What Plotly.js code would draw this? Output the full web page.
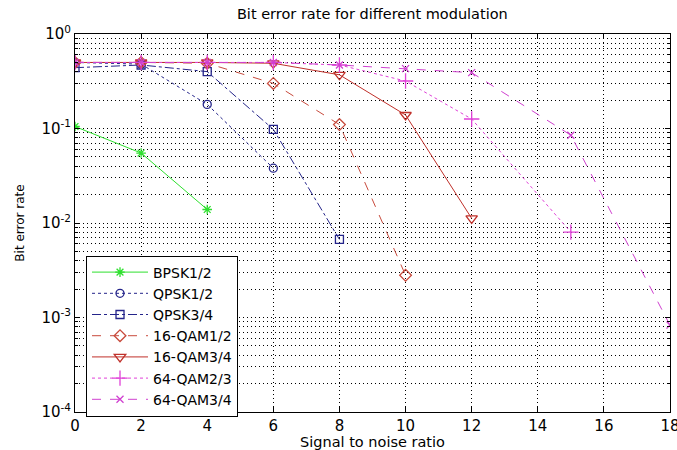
<!DOCTYPE html>
<html>
<head>
<meta charset="utf-8">
<script src="https://cdn.plot.ly/plotly-3.0.1.min.js"></script>
<style>html,body{margin:0;padding:0;background:#fff;}#chart{width:677px;height:450px;}</style>
</head>
<body>
<div id="chart"></div>
<script>
var seriesNames = ['BPSK1/2','QPSK1/2','QPSK3/4','16-QAM1/2','16-QAM3/4','64-QAM2/3','64-QAM3/4'];
var xBPSK12 = [0, 2, 4];
var yBPSK12 = [0.105, 0.055, 0.0139];
var xQPSK12 = [0, 2, 4, 6];
var yQPSK12 = [0.5, 0.48, 0.18, 0.038];
var xQPSK34 = [0, 2, 4, 6, 8];
var yQPSK34 = [0.44, 0.47, 0.40, 0.098, 0.0067];
var xQAM16_12 = [0, 2, 4, 6, 8, 10];
var yQAM16_12 = [0.5, 0.5, 0.49, 0.30, 0.11, 0.0028];
var xQAM16_34 = [0, 2, 4, 6, 8, 10, 12];
var yQAM16_34 = [0.5, 0.5, 0.5, 0.49, 0.37, 0.139, 0.0112];
var xQAM64_23 = [0, 2, 4, 6, 8, 10, 12, 15];
var yQAM64_23 = [0.5, 0.5, 0.5, 0.5, 0.47, 0.318, 0.126, 0.008];
var xQAM64_34 = [0, 2, 4, 6, 8, 10, 12, 15, 18];
var yQAM64_34 = [0.5, 0.5, 0.5, 0.5, 0.47, 0.43, 0.39, 0.085, 0.00083];

var xTickVals = [0, 2, 4, 6, 8, 10, 12, 14, 16, 18];
var yTickVals = [0.0001, 0.001, 0.01, 0.1, 1];
var yTickText = ['10<sup>-4</sup>', '10<sup>-3</sup>', '10<sup>-2</sup>', '10<sup>-1</sup>', '10<sup>0</sup>'];
var minorMantissas = [2, 3, 4, 5, 6, 7, 8, 9];

var minorVals = [];
yTickVals.slice(0, -1).forEach(function (d) {
  minorMantissas.forEach(function (m) { minorVals.push(d * m); });
});

var colors = ['#2ee02e', '#24248a', '#24248a', '#c84a3c', '#c0302a', '#e040d8', '#d040d0'];
var symbols = ['asterisk-open', 'circle-open', 'square-open', 'diamond-open', 'triangle-down-open', 'cross-thin-open', 'x-thin-open'];
var sizes = [8, 8, 8, 9, 10, 11, 7];
var dashes = ['solid', 'dot', 'dashdot', 'dash', 'solid', 'dot', 'dash'];
var xs = [xBPSK12, xQPSK12, xQPSK34, xQAM16_12, xQAM16_34, xQAM64_23, xQAM64_34];
var ys = [yBPSK12, yQPSK12, yQPSK34, yQAM16_12, yQAM16_34, yQAM64_23, yQAM64_34];

var traces = seriesNames.map(function (n, i) {
  return {
    x: xs[i], y: ys[i], name: n, type: 'scatter', mode: 'lines+markers',
    line: {color: colors[i], width: 1, dash: dashes[i]},
    marker: {symbol: symbols[i], size: sizes[i], color: colors[i], line: {color: colors[i], width: 1.3}}
  };
});

var fam = 'DejaVu Sans, Arial, sans-serif';
var gridDash = '1px,3px';
var layout = {
  width: 677, height: 450,
  margin: {l: 75, r: 7, t: 34, b: 38},
  paper_bgcolor: '#fff', plot_bgcolor: '#fff',
  font: {family: fam, size: 14, color: '#000'},
  title: {text: 'Bit error rate for different modulation', font: {family: fam, size: 14.5, color: '#000'}, x: 0.55, xanchor: 'center', y: 0.968, yanchor: 'middle'},
  xaxis: {
    range: [0, 18], tickmode: 'array', tickvals: xTickVals,
    showline: true, linecolor: '#000', linewidth: 1, mirror: 'ticks',
    ticks: 'inside', ticklen: 5, tickcolor: '#000', ticklabeloverflow: 'allow',
    showgrid: true, gridcolor: '#000', griddash: gridDash, gridwidth: 1,
    zeroline: false, tickfont: {family: fam, size: 15, color: '#000'},
    title: {text: 'Signal to noise ratio', font: {family: fam, size: 14.5, color: '#000'}, standoff: 3}
  },
  yaxis: {
    type: 'log', range: [-4, 0],
    tickmode: 'array', tickvals: yTickVals, ticktext: yTickText,
    showline: true, linecolor: '#000', linewidth: 1, mirror: 'ticks',
    ticks: 'inside', ticklen: 5, tickcolor: '#000',
    showgrid: true, gridcolor: '#000', griddash: gridDash, gridwidth: 1,
    zeroline: false, tickfont: {family: fam, size: 15, color: '#000'},
    minor: {tickmode: 'array', tickvals: minorVals, showgrid: true, gridcolor: '#000', griddash: gridDash, gridwidth: 1, ticks: 'inside', ticklen: 3, tickcolor: '#000'},
    title: {text: 'Bit error rate', font: {family: fam, size: 12, color: '#000'}, standoff: 14}
  },
  legend: {
    x: 0.0185, y: 0.414, xanchor: 'left', yanchor: 'top',
    bgcolor: '#fff', bordercolor: '#000', borderwidth: 1,
    font: {family: fam, size: 14, color: '#000'},
    itemwidth: 56, tracegroupgap: 0, entrywidth: 160
  },
  showlegend: true
};

Plotly.newPlot('chart', traces, layout, {displayModeBar: false, staticPlot: true});
</script>
</body>
</html>
